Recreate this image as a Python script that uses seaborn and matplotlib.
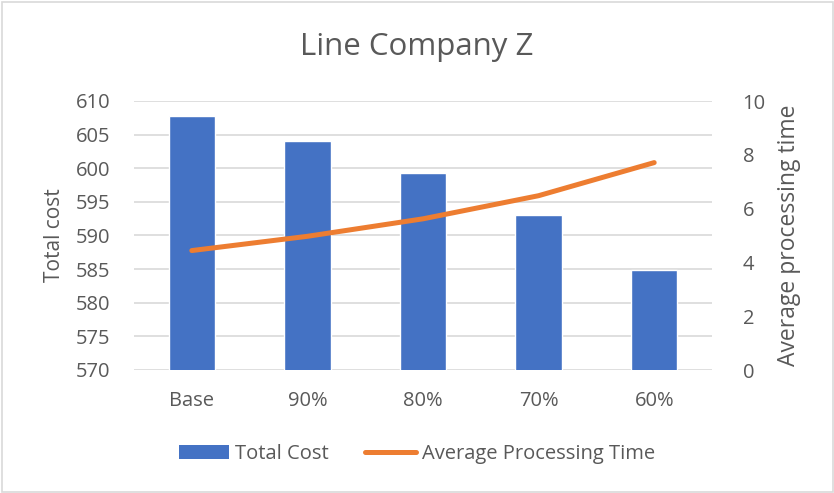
import matplotlib
matplotlib.use("Agg")
import matplotlib.pyplot as plt
import seaborn as sns
import pandas as pd
from matplotlib.patches import Patch, Rectangle
from matplotlib.lines import Line2D

scenarios = ["Base", "90%", "80%", "70%", "60%"]
total_cost = [607.8, 604.0, 599.3, 593.1, 584.8]
avg_processing_time = [4.44, 4.97, 5.62, 6.48, 7.71]

BLUE = "#4472C4"
ORANGE = "#ED7D31"
TEXT = "#595959"
GRID = "#D9D9D9"

sns.set_theme(style="white")
plt.rcParams["font.family"] = ["Open Sans", "DejaVu Sans"]

df = pd.DataFrame({"Scenario": scenarios,
                   "Total Cost": total_cost,
                   "Average Processing Time": avg_processing_time})

fig = plt.figure(figsize=(8.34, 4.93), dpi=100)
W, H = 834, 493
ax = fig.add_axes([134 / W, 1 - 370 / H, (712 - 134) / W, (370 - 101) / H])

sns.barplot(data=df, x="Scenario", y="Total Cost", color=BLUE, width=0.4,
            saturation=1, ax=ax, zorder=2)
ax.set_ylim(570, 610)
ax.set_yticks(range(570, 611, 5))
ax.yaxis.grid(True, color=GRID, linewidth=1.2, zorder=0)
ax.set_axisbelow(True)
for s in ax.spines.values():
    s.set_visible(False)
ax.tick_params(axis="both", length=0, colors=TEXT, labelsize=14.5)
ax.tick_params(axis="y", pad=17)
ax.tick_params(axis="x", pad=15)
ax.set_xlabel("")
ax.set_ylabel("Total cost", color=TEXT, fontsize=15, labelpad=8)

ax2 = ax.twinx()
sns.lineplot(data=df, x="Scenario", y="Average Processing Time", color=ORANGE,
             linewidth=3.6, ax=ax2, sort=False)
for ln in ax2.lines:
    ln.set_solid_capstyle("round")
    ln.set_solid_joinstyle("round")
ax2.set_ylim(0, 10)
ax2.set_yticks(range(0, 11, 2))
for s in ax2.spines.values():
    s.set_visible(False)
ax2.tick_params(axis="y", length=0, colors=TEXT, labelsize=14.5, pad=22)
ax2.set_ylabel("Average processing time", color=TEXT, fontsize=16.5, labelpad=8)
ax2.grid(False)
ax.set_xlim(-0.5, len(scenarios) - 0.5)

fig.text(0.5, 1 - 47 / H, "Line Company Z", ha="center", va="center",
         fontsize=22.5, color=TEXT)

handles = [Patch(facecolor=BLUE, edgecolor="none"),
           Line2D([0], [0], color=ORANGE, linewidth=3.6, solid_capstyle="round")]
fig.legend(handles, ["Total Cost", "Average Processing Time"],
           loc="center", bbox_to_anchor=(0.5, 1 - 454 / H), ncol=2, frameon=False,
           fontsize=14.5, labelcolor=TEXT, handlelength=2.5, handleheight=0.7,
           handletextpad=0.3, columnspacing=1.8)

fig.patches.append(Rectangle((1.5 / W, 1.5 / H), 1 - 3 / W, 1 - 3 / H,
                             transform=fig.transFigure, fill=False,
                             edgecolor="#D9D9D9", linewidth=1.2))

fig.savefig("out.png", dpi=100, facecolor="white")
